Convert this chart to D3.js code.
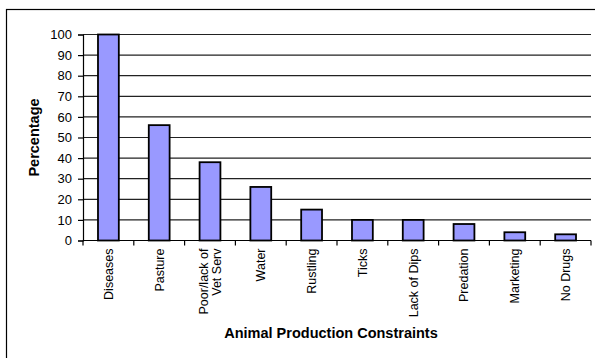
<!DOCTYPE html>
<html>
<head>
<meta charset="utf-8">
<script src="https://cdn.jsdelivr.net/npm/d3@7"></script>
<style>
  body { margin: 0; background: #fff; }
  svg { display: block; font-family: "Liberation Sans", Arial, sans-serif; }
</style>
</head>
<body>
<div id="chart"></div>
<script>
const categories = ["Diseases", "Pasture", "Poor/lack of|Vet Serv", "Water", "Rustling",
  "Ticks", "Lack of Dips", "Predation", "Marketing", "No Drugs"];
const percentages = [100, 56, 38, 26, 15, 10, 10, 8, 4, 3];
const yTicks = [0, 10, 20, 30, 40, 50, 60, 70, 80, 90, 100];

const width = 595, height = 358;
const margin = { top: 34.5, left: 83, right: 4, bottom: 117.5 };

const svg = d3.select("#chart").append("svg")
  .attr("width", width)
  .attr("height", height);

// outer frame (right and bottom edges fall off the picture)
svg.append("rect")
  .attr("x", 6.5).attr("y", 9.5)
  .attr("width", 650).attr("height", 400)
  .attr("fill", "none")
  .attr("stroke", "#000")
  .attr("stroke-width", 1.2);

const xScale = d3.scaleBand()
  .domain(categories)
  .range([margin.left, width - margin.right])
  .padding(0);

const yScale = d3.scaleLinear()
  .domain([0, 100])
  .range([height - margin.bottom, margin.top]);

// gridlines
svg.append("g")
  .selectAll("line")
  .data(yTicks.filter(d => d > 0))
  .enter()
  .append("line")
  .attr("x1", margin.left)
  .attr("x2", width - margin.right)
  .attr("y1", d => yScale(d))
  .attr("y2", d => yScale(d))
  .attr("stroke", "#222")
  .attr("stroke-width", 1.2);

// bars
const barW = xScale.bandwidth() * 0.41;
svg.append("g")
  .selectAll("rect")
  .data(percentages)
  .enter()
  .append("rect")
  .attr("x", (d, i) => xScale(categories[i]) + (xScale.bandwidth() - barW) / 2)
  .attr("y", d => yScale(d))
  .attr("width", barW)
  .attr("height", d => yScale(0) - yScale(d))
  .attr("fill", "#9999ff")
  .attr("stroke", "#000")
  .attr("stroke-width", 1.8);

// y axis
const yAxis = d3.axisLeft(yScale).tickValues(yTicks).tickSize(5).tickPadding(6);
const gy = svg.append("g")
  .attr("transform", "translate(" + margin.left + ",0)")
  .call(yAxis);
gy.select(".domain").attr("stroke", "#000").attr("stroke-width", 1.2);
gy.selectAll(".tick line").attr("stroke", "#000").attr("stroke-width", 1.2);
gy.selectAll(".tick text")
  .attr("font-size", "13px")
  .attr("fill", "#000")
  .attr("font-family", "Liberation Sans, Arial, sans-serif");

// x axis: ticks at category boundaries
const baseY = yScale(0);
svg.append("line")
  .attr("x1", margin.left).attr("x2", width - margin.right)
  .attr("y1", baseY).attr("y2", baseY)
  .attr("stroke", "#000").attr("stroke-width", 1.2);

svg.append("g")
  .selectAll("line")
  .data(categories.concat(["end"]))
  .enter()
  .append("line")
  .attr("x1", (d, i) => i < categories.length ? xScale(d) : xScale.range()[1])
  .attr("x2", (d, i) => i < categories.length ? xScale(d) : xScale.range()[1])
  .attr("y1", baseY)
  .attr("y2", baseY + 5)
  .attr("stroke", "#000")
  .attr("stroke-width", 1.2);

// rotated category labels
const xLabels = svg.append("g")
  .selectAll("text")
  .data(categories)
  .enter()
  .append("text")
  .attr("transform", d => "translate(" + (xScale(d) + xScale.bandwidth() / 2) + "," + (baseY + 8) + ") rotate(-90)")
  .attr("text-anchor", "end")
  .attr("font-size", "12.5px")
  .attr("fill", "#000");

xLabels.each(function (d) {
  const lines = d.split("|");
  const t = d3.select(this);
  lines.forEach((ln, j) => {
    t.append("tspan")
      .attr("x", 0)
      .attr("dy", j === 0 ? (lines.length === 1 ? "0.35em" : "-0.2em") : "1.1em")
      .text(ln);
  });
});

// axis titles
svg.append("text")
  .attr("transform", "translate(39," + ((margin.top + baseY) / 2) + ") rotate(-90)")
  .attr("text-anchor", "middle")
  .attr("font-size", "14.5px")
  .attr("font-weight", "bold")
  .text("Percentage");

svg.append("text")
  .attr("x", 331)
  .attr("y", 338)
  .attr("text-anchor", "middle")
  .attr("font-size", "14.5px")
  .attr("font-weight", "bold")
  .text("Animal Production Constraints");
</script>
</body>
</html>
